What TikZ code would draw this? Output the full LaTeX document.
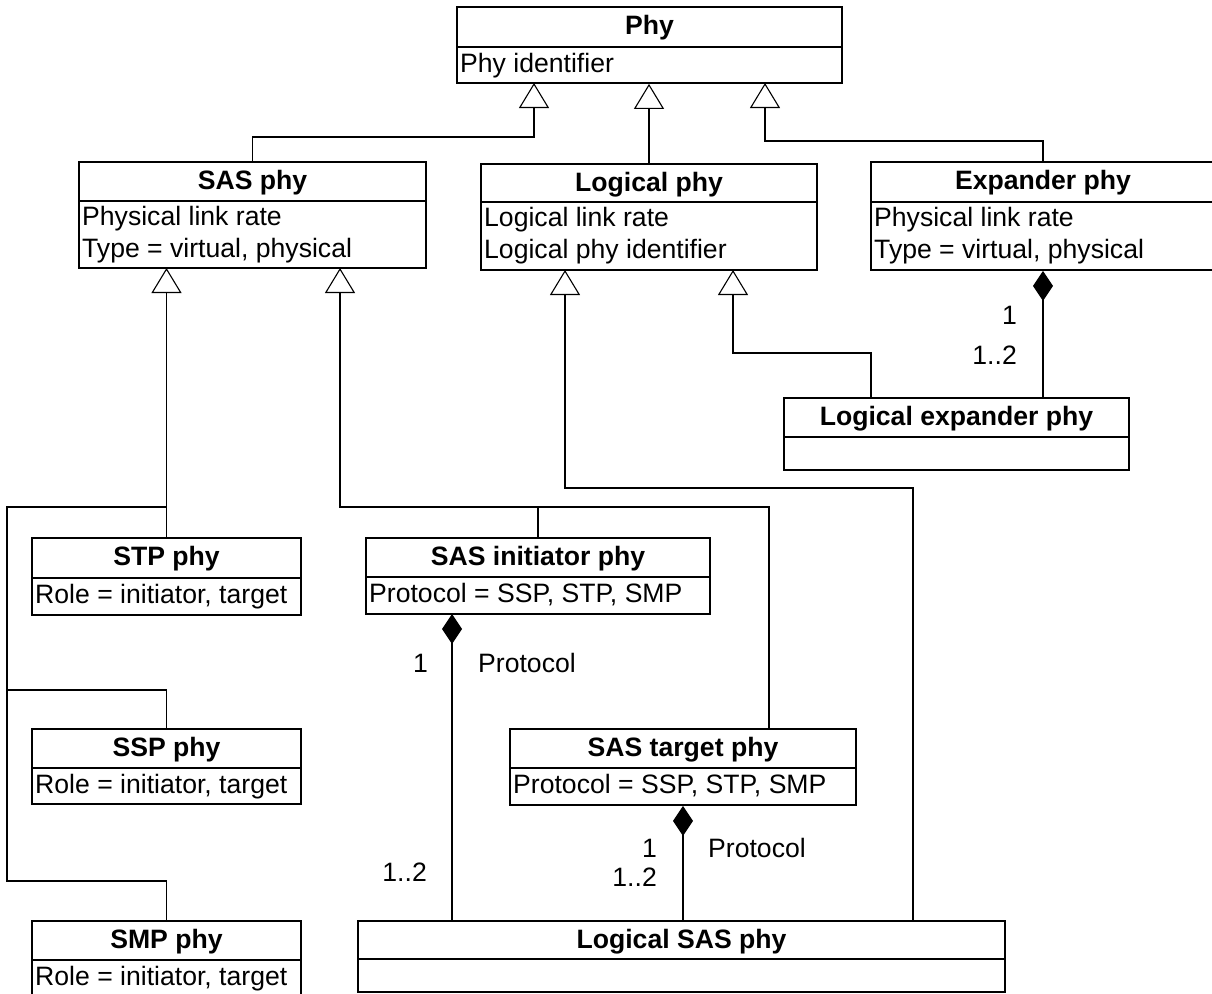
\documentclass[tikz,border=0pt]{standalone}
\usepackage{fontspec}
\setmainfont{Liberation Sans}
\usetikzlibrary{arrows.meta}
\tikzset{
  classbox/.style={draw, line width=1.8pt, rectangle, inner sep=0pt, fill=white},
  classline/.style={line width=1.8pt},
  classtitle/.style={anchor=base, inner sep=0pt, font=\fontsize{26.6}{32}\selectfont\bfseries},
  attr/.style={anchor=base west, inner sep=0pt, font=\fontsize{26.6}{32}\selectfont},
  lbl/.style={inner sep=0pt, font=\fontsize{26.6}{32}\selectfont},
  conn/.style={line width=1.1pt},
  gen/.style={conn, -{Triangle[open, width=30pt, length=25pt, line width=1.1pt]}},
  comp/.style={conn, {Diamond[width=20pt, length=30pt]}-},
}
\newcommand\umlclass[7]{%
  \pgfmathsetmacro\ucw{#3-#2}\pgfmathsetmacro\uch{#6-#4}%
  \node[classbox, minimum width=\ucw pt, minimum height=\uch pt] (#1) at ({(#2+#3)/2},{(#4+#6)/2}) {};
  \draw[classline] (#2,#5) -- (#3,#5);
  \node[classtitle] (#1-t) at ({(#2+#3)/2},{#4+27}) {#7};
}
\begin{document}
\begin{tikzpicture}[x=1pt, y=-1pt]
\path[use as bounding box] (0,0) rectangle (1212,993);
\clip (0,0) rectangle (1212,993);
\fill[white] (0,0) rectangle (1212,993);

% classes
\umlclass{phy}{457}{842}{7}{47}{83}{Phy}
\node[attr] (phy-a1) at (460,72) {Phy identifier};

\umlclass{sasphy}{79}{426}{162}{201}{268}{SAS phy}
\node[attr] (sasphy-a1) at (82,225) {Physical link rate};
\node[attr] (sasphy-a2) at (82,257) {Type = virtual, physical};

\umlclass{logphy}{481}{817}{164}{202}{270}{Logical phy}
\node[attr] (logphy-a1) at (484,226) {Logical link rate};
\node[attr] (logphy-a2) at (484,258) {Logical phy identifier};

\umlclass{expphy}{871}{1215}{162}{202}{270}{Expander phy}
\node[attr] (expphy-a1) at (874,226) {Physical link rate};
\node[attr] (expphy-a2) at (874,258) {Type = virtual, physical};

\umlclass{lexp}{784}{1129}{398}{437}{470}{Logical expander phy}

\umlclass{stp}{32}{301}{538}{578}{615}{STP phy}
\node[attr] (stp-a1) at (35,603) {Role = initiator, target};

\umlclass{ssp}{32}{301}{729}{768}{804}{SSP phy}
\node[attr] (ssp-a1) at (35,793) {Role = initiator, target};

\umlclass{smp}{32}{301}{921}{960}{1010}{SMP phy}
\node[attr] (smp-a1) at (35,985) {Role = initiator, target};

\umlclass{sasinit}{366}{710}{538}{577}{614}{SAS initiator phy}
\node[attr] (sasinit-a1) at (369,602) {Protocol = SSP, STP, SMP};

\umlclass{tgt}{510}{856}{729}{768}{805}{SAS target phy}
\node[attr] (tgt-a1) at (513,793) {Protocol = SSP, STP, SMP};

\umlclass{lsas}{358}{1005}{921}{959}{992}{Logical SAS phy}

% attachment and bend points
\coordinate (phyA) at (534,83);
\coordinate (phyC) at (765,83);
\coordinate (j1) at (534,137);
\coordinate (j2) at (765,141);
\coordinate (sasA) at (166.5,268);
\coordinate (sasB) at (340,268);
\coordinate (j3) at (340,507);
\coordinate (tgtTop) at (769,729);
\coordinate (logA) at (565,270);
\coordinate (logB) at (733,270);
\coordinate (j4) at (565,488);
\coordinate (lsasTop) at (913,921);
\coordinate (j5) at (733,353);
\coordinate (lexTop) at (871,398);
\coordinate (busTop) at (7,507);
\coordinate (busMid) at (7,690);
\coordinate (busBot) at (7,881);
\coordinate (initD) at (452,614);

% generalizations to Phy
\draw[gen] (sasphy.north) |- (j1) -- (phyA);
\draw[gen] (logphy.north) -- (logphy.north |- phy.south);
\draw[gen] (expphy.north) |- (j2) -- (phyC);

% generalizations to SAS phy
\draw[gen] (stp.north) -- (sasA);
\draw[conn] (ssp.north) |- (busMid) -- (busTop) -- (stp.north |- busTop);
\draw[conn] (smp.north) |- (busBot) -- (busMid);
\draw[gen] (tgtTop) |- (j3) -- (sasB);
\draw[conn] (sasinit.north) -- (sasinit.north |- j3);

% generalizations to Logical phy
\draw[gen] (lsasTop) |- (j4) -- (logA);
\draw[gen] (lexTop) |- (j5) -- (logB);

% compositions
\draw[comp] (expphy.south) -- (expphy.south |- lexp.north);
\draw[comp] (initD) -- (initD |- lsas.north);
\draw[comp] (tgt.south) -- (tgt.south |- lsas.north);

% multiplicities and roles
\node[lbl, anchor=base east] (m1) at (1017,324) {1};
\node[lbl, anchor=base east] (m2) at (1017,364) {1..2};
\node[lbl, anchor=base east] (m3) at (428,672) {1};
\node[lbl, anchor=base west] (r1) at (478,672) {Protocol};
\node[lbl, anchor=base east] (m4) at (427,881) {1..2};
\node[lbl, anchor=base east] (m5) at (657,857) {1};
\node[lbl, anchor=base east] (m6) at (657,886) {1..2};
\node[lbl, anchor=base west] (r2) at (708,857) {Protocol};
\end{tikzpicture}
\end{document}
